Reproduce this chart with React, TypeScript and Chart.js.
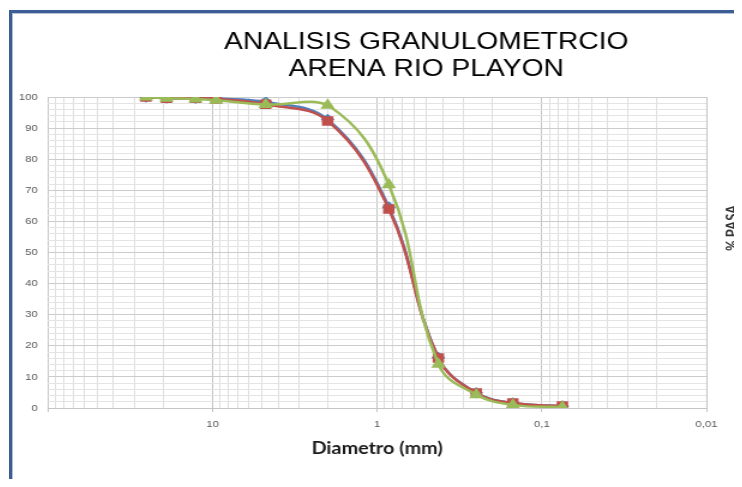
import React, { useEffect, useRef } from "react";
import { Chart, registerables } from "chart.js";

Chart.register(...registerables);

// ---- data ----
const sieveSizesMm = [25.4, 19.05, 12.7, 9.52, 4.76, 2.0, 0.85, 0.425, 0.25, 0.15, 0.075];
const passBlue = [100, 99.7, 99.6, 99.5, 98.4, 92.8, 64.6, 16.2, 4.9, 1.6, 0.6];
const passRed = [100, 99.6, 99.6, 99.4, 97.7, 92.3, 64.0, 16.1, 4.8, 1.6, 0.6];
const passGreen = [100, 99.6, 99.4, 99.0, 97.6, 97.4, 71.8, 14.1, 4.3, 1.0, 0.3];

const xDecadeValues = [100, 10, 1, 0.1, 0.01];
const xDecadeLabels = ["", "10", "1", "0,1", "0,01"];
const xMinorMultipliers = [1, 2, 3, 4, 5, 6, 7, 8, 9];
const xDecadeStarts = [0.01, 0.1, 1, 10];

const titleLines = ["ANALISIS GRANULOMETRCIO", "ARENA RIO PLAYON"];
const xTitle = "Diametro (mm)";
const yTitle = "% PASA";

// ---- layout ----
const SX = 1.2; // horizontal stretch of the picture
const CW = 697;
const CH = 479;

const isDecade = (v: number) => Math.abs(Math.log10(v) - Math.round(Math.log10(v))) < 1e-6;

const yTitlePlugin = {
  id: "yTitleRight",
  afterDraw(chart: any) {
    const { ctx, chartArea } = chart;
    ctx.save();
    ctx.translate(chartArea.right + 21.5, 220);
    ctx.rotate(-Math.PI / 2);
    ctx.font = "bold 13px Lato";
    ctx.fillStyle = "#333333";
    ctx.textAlign = "center";
    ctx.textBaseline = "middle";
    ctx.fillText(yTitle, 0, 0);
    ctx.restore();
  },
};

export default function App() {
  const ref = useRef<HTMLCanvasElement>(null);

  useEffect(() => {
    document.body.style.overflow = "hidden";
    const canvas = ref.current!;
    const mk = (vals: number[]) => sieveSizesMm.map((x, i) => ({ x, y: vals[i] }));
    const chart = new Chart(canvas, {
      type: "line",
      data: {
        datasets: [
          {
            label: "Serie 1",
            data: mk(passBlue),
            borderColor: "#4F81BD",
            backgroundColor: "#4F81BD",
            pointBackgroundColor: "#4F81BD",
            pointBorderColor: "#4F81BD",
            pointStyle: "rectRot",
            pointRadius: 4,
            borderWidth: 2.5,
            tension: 0.4,
            order: 2,
          },
          {
            label: "Serie 2",
            data: mk(passRed),
            borderColor: "#C0504D",
            backgroundColor: "#C0504D",
            pointBackgroundColor: "#C0504D",
            pointBorderColor: "#C0504D",
            pointStyle: "rect",
            pointRadius: 5,
            borderWidth: 2.5,
            tension: 0.4,
            order: 1,
          },
          {
            label: "Serie 3",
            data: mk(passGreen),
            borderColor: "#9BBB59",
            backgroundColor: "#9BBB59",
            pointBackgroundColor: "#9BBB59",
            pointBorderColor: "#9BBB59",
            pointStyle: "triangle",
            pointRadius: 4.5,
            borderWidth: 2.5,
            tension: 0.42,
            order: 0,
          },
        ],
      },
      options: {
        responsive: false,
        animation: false,
        devicePixelRatio: 1,
        layout: { padding: 0 },
        plugins: {
          legend: { display: false },
          tooltip: { enabled: false },
          title: {
            display: true,
            text: titleLines,
            color: "#000000",
            font: { family: "Liberation Sans", size: 23.5, weight: "normal", lineHeight: 1.15 },
            padding: { top: 21, bottom: 14 },
          },
        },
        scales: {
          x: {
            type: "logarithmic",
            min: 0.01,
            max: 100,
            reverse: true,
            afterBuildTicks: (scale: any) => {
              const vals: number[] = [];
              xDecadeStarts.forEach((d) => xMinorMultipliers.forEach((m) => vals.push(+(d * m).toPrecision(6))));
              vals.push(100);
              scale.ticks = vals.map((value) => ({ value }));
            },
            afterFit: (scale: any) => {
              scale.height = 79;
            },
            ticks: {
              autoSkip: false,
              maxRotation: 0,
              padding: 7,
              color: "#595959",
              font: { family: "Liberation Sans", size: 9.5 },
              callback: (value: any) => {
                const v = Number(value);
                const idx = xDecadeValues.findIndex((d) => Math.abs(d - v) / d < 1e-6);
                return idx >= 0 ? xDecadeLabels[idx] : "";
              },
            },
            grid: {
              drawTicks: true,
              tickLength: 4,
              color: (ctx: any) => (ctx.tick && isDecade(ctx.tick.value) ? "#c4c4c4" : "#dedede"),
              tickColor: (ctx: any) => (ctx.tick && isDecade(ctx.tick.value) ? "#c4c4c4" : "rgba(0,0,0,0)"),
              lineWidth: 1,
            },
            border: { display: true, color: "#c4c4c4" },
            title: {
              display: true,
              text: xTitle,
              color: "#1a1a1a",
              font: { family: "Lato", size: 16.5, weight: "bold", lineHeight: 1.2 },
              padding: { top: 0, bottom: 28 },
            },
          },
          y: {
            type: "linear",
            position: "left",
            min: 0,
            max: 100,
            afterFit: (scale: any) => {
              scale.width = 33.3;
            },
            ticks: {
              stepSize: 2,
              autoSkip: false,
              padding: 8.5,
              color: "#595959",
              font: { family: "Liberation Sans", size: 9.5 },
              callback: (value: any) => (Number(value) % 10 === 0 ? String(value) : ""),
            },
            grid: {
              drawTicks: false,
              color: (ctx: any) => (ctx.tick && ctx.tick.value % 10 === 0 ? "#cccccc" : "#e4e4e4"),
              lineWidth: 1,
            },
            border: { display: false },
          },
          y2: {
            type: "linear",
            position: "right",
            afterFit: (scale: any) => {
              scale.width = 115;
            },
            ticks: { display: false },
            grid: { display: false, drawOnChartArea: false },
            border: { display: false },
          },
        },
      },
      plugins: [yTitlePlugin],
    } as any);
    return () => chart.destroy();
  }, []);

  return (
    <div style={{ position: "relative", width: 734, height: 471, overflow: "hidden", background: "#ffffff" }}>
      <div
        style={{
          position: "absolute",
          left: 0,
          top: 0,
          width: CW,
          height: CH,
          transform: `scaleX(${SX})`,
          transformOrigin: "0 0",
        }}
      >
        <canvas ref={ref} width={CW} height={CH} style={{ display: "block", width: CW, height: CH }} />
      </div>
      <div style={{ position: "absolute", left: 1, top: 2, right: 0, height: 2.5, background: "#3b5f95" }} />
      <div style={{ position: "absolute", left: 4, top: 5, right: 0, height: 1, background: "#b4c1d6" }} />
      <div style={{ position: "absolute", left: 1, top: 2, bottom: 0, width: 2.5, background: "#3b5f95" }} />
      <div style={{ position: "absolute", left: 4, top: 5, bottom: 0, width: 1, background: "#b4c1d6" }} />
    </div>
  );
}
